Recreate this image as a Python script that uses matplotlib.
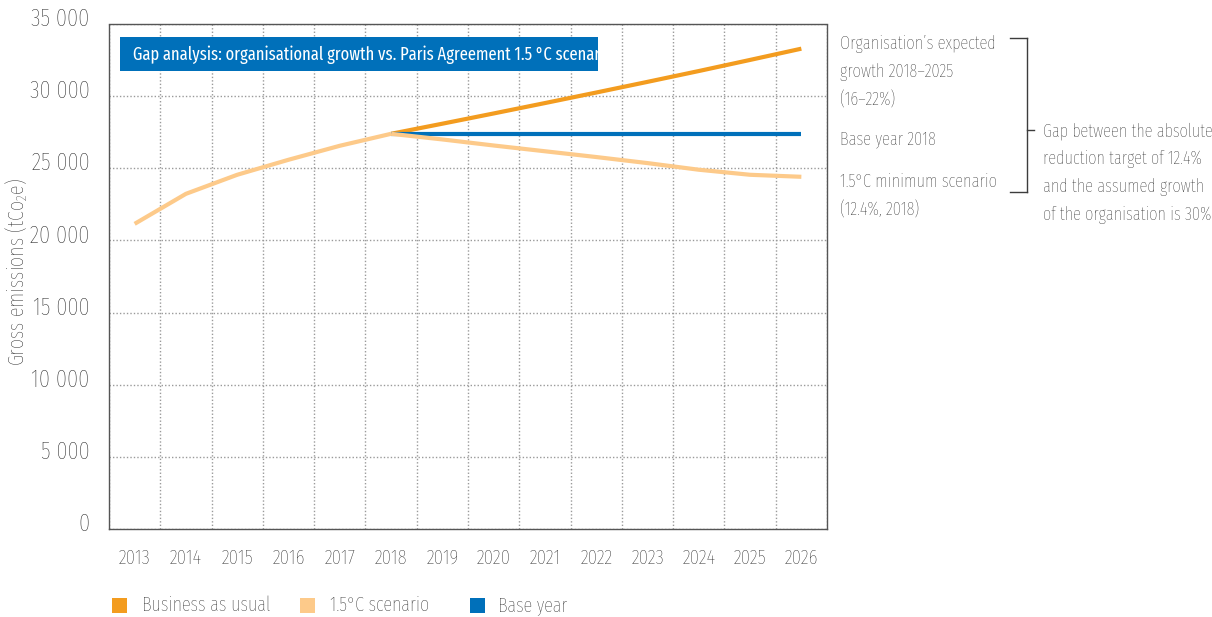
import matplotlib
matplotlib.use('Agg')
import matplotlib.pyplot as plt
from matplotlib import font_manager
from matplotlib.font_manager import FontProperties
from matplotlib.textpath import TextPath
from matplotlib.patches import Rectangle
from matplotlib.lines import Line2D
from matplotlib.transforms import ScaledTranslation

# Pick a narrow sans face if one is installed
available = {f.name for f in font_manager.fontManager.ttflist}
candidates = ['Fira Sans Extra Condensed', 'Barlow Condensed', 'Sofia Sans Condensed',
              'PT Sans Narrow', 'Fira Sans Condensed', 'Roboto Condensed',
              'Archivo Narrow', 'Liberation Sans Narrow']
font = next((c for c in candidates if c in available), 'DejaVu Sans')
plt.rcParams['font.family'] = [font, 'DejaVu Sans']
plt.rcParams['font.weight'] = 'light'
plt.rcParams['mathtext.fontset'] = 'custom'
plt.rcParams['mathtext.rm'] = f'{font}:light'
plt.rcParams['mathtext.it'] = f'{font}:light'

W, H = 1212, 617


def fit(s, width_px):
    # font size (pt) that makes string s about width_px wide at 100 dpi
    prop = FontProperties(family=font, weight='light')
    w = TextPath((0, 0), s, size=10, prop=prop).get_extents().width
    return 10 * width_px * 0.72 / w


def fx(x):
    return x / W


def fy(y):
    return 1 - y / H


# Emissions data (tCO2e)
years = ['2013', '2014', '2015', '2016', '2017', '2018', '2019',
         '2020', '2021', '2022', '2023', '2024', '2025', '2026']
history = [21150, 23230, 24550, 25590, 26560, 27390]
bau = [27390, 28090, 28800, 29520, 30250, 30990, 31740, 32510, 33290]
paris = [27390, 27000, 26580, 26180, 25780, 25360, 24900, 24550, 24410]
base_year = [27390] * 9
y_ticks = [0, 5000, 10000, 15000, 20000, 25000, 30000, 35000]

c_bau = '#F39C1F'
c_paris = '#FDCA8A'
c_base = '#0070BA'
txt = '#1e1e1e'

fig = plt.figure(figsize=(W / 100, H / 100), dpi=100)
ax = fig.add_axes([fx(109), fy(529), 718 / W, 505 / H])

x_hist = list(range(0, 6))
x_proj = list(range(5, 14))
ax.plot(x_proj, bau, color=c_bau, lw=3, solid_capstyle='butt', zorder=3)
ax.plot(x_proj, base_year, color=c_base, lw=3, solid_capstyle='butt', zorder=3)
ax.plot(x_hist, history, color=c_paris, lw=3, solid_capstyle='butt', zorder=3)
ax.plot(x_proj, paris, color=c_paris, lw=3, solid_capstyle='butt', zorder=3)

ax.set_xlim(-0.5, 13.5)
ax.set_ylim(0, 35000)
ax.set_xticks(range(len(years)))
ax.set_xticklabels(years)
ax.set_xticks([i - 0.5 for i in range(len(years) + 1)], minor=True)
ax.set_yticks(y_ticks)
ax.set_yticklabels([f'{v:,}'.replace(',', ' ') for v in y_ticks])
ax.tick_params(axis='x', which='both', length=0, pad=14,
               labelsize=fit('2013', 30), colors=txt)
ax.tick_params(axis='y', length=0, pad=14,
               labelsize=fit('35 000', 56), colors=txt)
# y labels sit a little above their gridlines
lift = ScaledTranslation(0, 0.07, fig.dpi_scale_trans)
for lab in ax.get_yticklabels():
    lab.set_transform(lab.get_transform() + lift)
ax.grid(axis='x', which='minor', color='#9a9a9a', lw=1, ls=(0, (1, 1.5)))
ax.grid(axis='y', which='major', color='#9a9a9a', lw=1, ls=(0, (1, 1.5)))
for s in ax.spines.values():
    s.set_color('#555555')
    s.set_linewidth(1)
    s.set_linestyle((0, (1, 1)))

fig.text(fx(17), fy(272), 'Gross emissions (tCo$_2$e)', rotation=90,
         fontsize=fit('Gross emissions (tCo2e)', 186), color=txt,
         ha='center', va='center')

# Title box inside the plot
fig.patches.append(Rectangle((fx(120), fy(71)), 478 / W, 34 / H,
                             transform=fig.transFigure, facecolor=c_base,
                             edgecolor='none', zorder=5))
title = 'Gap analysis: organisational growth vs. Paris Agreement 1.5 °C scenario'
fig.text(fx(133), fy(55), title, color='white', fontsize=fit(title, 457),
         fontweight='normal', va='center', ha='left', zorder=6)

# Right-hand annotations
note_size = fit('Organisation’s expected', 153)
notes = [(44, 'Organisation’s expected'), (72, 'growth 2018–2025'), (100, '(16–22%)'),
         (139, 'Base year 2018'), (182, '1.5°C minimum scenario'), (210, '(12.4%, 2018)')]
for ypx, s in notes:
    fig.text(fx(840), fy(ypx), s, fontsize=note_size, color=txt, va='center', ha='left')

gap = ['Gap between the absolute', 'reduction target of 12.4%',
       'and the assumed growth', 'of the organisation is 30%']
gap_size = fit('of the organisation is 30%', 167)
for i, s in enumerate(gap):
    fig.text(fx(1043), fy(131 + 28 * i), s, fontsize=gap_size, color=txt,
             va='center', ha='left')

bx, bx0, btop, bbot, bmid = 1027, 1010, 38, 192, 130
for xs, ys in [((bx0, bx), (btop, btop)), ((bx, bx), (btop, bbot)),
               ((bx0, bx), (bbot, bbot)), ((bx, bx + 7), (bmid, bmid))]:
    fig.add_artist(Line2D([fx(x) for x in xs], [fy(y) for y in ys],
                          transform=fig.transFigure, color='#3c3c3c', lw=1))

# Legend row under the axis
legend_items = [(112, 142, c_bau, 'Business as usual'),
                (300, 330, c_paris, '1.5°C scenario'),
                (470, 498, c_base, 'Base year')]
leg_size = fit('Business as usual', 126)
for mx, tx, col, label in legend_items:
    fig.patches.append(Rectangle((fx(mx), fy(613)), 15 / W, 15 / H,
                                 transform=fig.transFigure, facecolor=col,
                                 edgecolor='none'))
    fig.text(fx(tx), fy(605), label, fontsize=leg_size, color=txt,
             va='center', ha='left')

fig.savefig('out.png', dpi=100)
